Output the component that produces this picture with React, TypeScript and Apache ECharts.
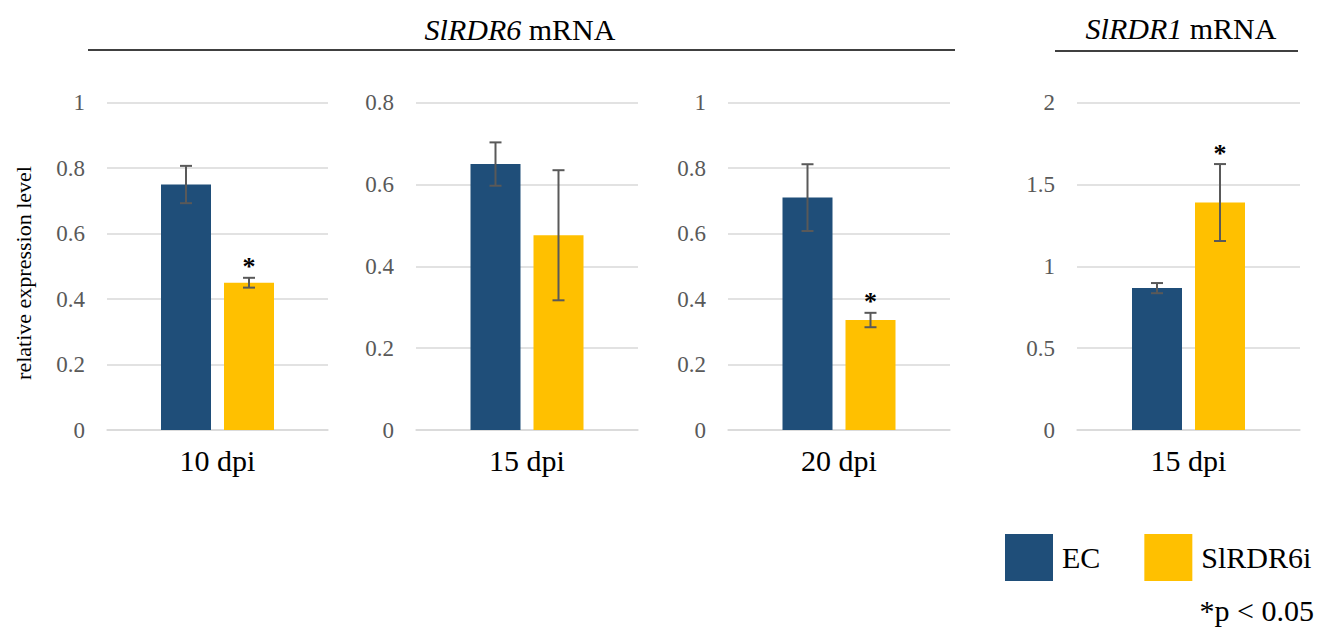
import React, { useEffect, useRef } from "react";
import * as echarts from "echarts";

const categories = ["10 dpi", "15 dpi", "20 dpi", "15 dpi"];
const ecValues = [0.75, 0.65, 0.71, 0.867];
const ecErrors = [0.057, 0.053, 0.102, 0.031];
const rdr6iValues = [0.45, 0.476, 0.336, 1.39];
const rdr6iErrors = [0.015, 0.159, 0.022, 0.235];
const ecSignificant = [false, false, false, false];
const rdr6iSignificant = [true, false, true, true];
const yMaxes = [1, 0.8, 1, 2];
const yIntervals = [0.2, 0.2, 0.2, 0.5];
const seriesNames = ["EC", "SlRDR6i"];

const FONT = "Liberation Serif";
const BLUE = "#1F4E79";
const YELLOW = "#FFC000";
const GRID_COLOR = "#d9d9d9";

const gridBoxes = [
  { left: 107, width: 221 },
  { left: 416, width: 222 },
  { left: 728, width: 222 },
  { left: 1077, width: 223 },
];

export default function App() {
  const ref = useRef<HTMLDivElement>(null);

  useEffect(() => {
    if (!ref.current) return;
    const chart = echarts.init(ref.current, null, { renderer: "svg" });

    const grid = gridBoxes.map((g) => ({
      left: g.left,
      width: g.width,
      top: 102.7,
      height: 327.3,
      containLabel: false,
    }));

    const xAxis = categories.map((c, i) => ({
      type: "category",
      gridIndex: i,
      data: [c],
      axisTick: { show: false },
      axisLine: { show: true, lineStyle: { color: GRID_COLOR, width: 1.5 } },
      axisLabel: { margin: 15, fontFamily: FONT, fontSize: 30, color: "#000" },
    }));

    const yAxis = yMaxes.map((m, i) => ({
      type: "value",
      gridIndex: i,
      min: 0,
      max: m,
      interval: yIntervals[i],
      axisLine: { show: false },
      axisTick: { show: false },
      splitLine: { lineStyle: { color: GRID_COLOR, width: 1.5 } },
      axisLabel: {
        margin: 22,
        fontFamily: FONT,
        fontSize: 23,
        color: "#595959",
      },
    }));

    const errRender = (params: any, api: any) => {
      const v = api.value(1);
      const e = api.value(2);
      const sig = api.value(3);
      const off = api.value(4);
      const c = api.coord([0, v]);
      const x = c[0] + off;
      const top = api.coord([0, v + e])[1];
      const bot = api.coord([0, v - e])[1];
      const style = { stroke: "#595959", lineWidth: 2 };
      const children: any[] = [
        { type: "line", shape: { x1: x, y1: top, x2: x, y2: bot }, style },
        { type: "line", shape: { x1: x - 6, y1: top, x2: x + 6, y2: top }, style },
        { type: "line", shape: { x1: x - 6, y1: bot, x2: x + 6, y2: bot }, style },
      ];
      if (sig) {
        children.push({
          type: "text",
          x: x,
          y: top + 2,
          style: {
            text: "*",
            fontFamily: FONT,
            fontSize: 26,
            fontWeight: "bold",
            fill: "#000",
            align: "center",
            verticalAlign: "bottom",
          },
        });
      }
      return { type: "group", children };
    };

    const series: any[] = [];
    categories.forEach((c, i) => {
      series.push({
        type: "bar",
        name: seriesNames[0],
        xAxisIndex: i,
        yAxisIndex: i,
        data: [ecValues[i]],
        barWidth: 50,
        barGap: "26%",
        itemStyle: { color: BLUE },
      });
      series.push({
        type: "bar",
        name: seriesNames[1],
        xAxisIndex: i,
        yAxisIndex: i,
        data: [rdr6iValues[i]],
        barWidth: 50,
        barGap: "26%",
        itemStyle: { color: YELLOW },
      });
      series.push({
        type: "custom",
        xAxisIndex: i,
        yAxisIndex: i,
        z: 5,
        renderItem: errRender,
        data: [
          [0, ecValues[i], ecErrors[i], ecSignificant[i] ? 1 : 0, -31.5],
          [0, rdr6iValues[i], rdr6iErrors[i], rdr6iSignificant[i] ? 1 : 0, 31.5],
        ],
      });
    });

    const option = {
      animation: false,
      backgroundColor: "#fff",
      textStyle: { fontFamily: FONT },
      grid,
      xAxis,
      yAxis,
      series,
      legend: {
        data: seriesNames,
        left: 1005,
        top: 534,
        padding: 0,
        itemWidth: 48,
        itemHeight: 47,
        itemGap: 44,
        icon: "rect",
        selectedMode: false,
        textStyle: { fontFamily: FONT, fontSize: 30, color: "#000", padding: [0, 0, 0, 4] },
      },
      graphic: [
        {
          type: "text",
          x: 23,
          y: 273,
          rotation: Math.PI / 2,
          style: {
            text: "relative expression level",
            fontFamily: FONT,
            fontSize: 22,
            fill: "#000",
            align: "center",
            verticalAlign: "middle",
          },
        },
        {
          type: "text",
          x: 520,
          y: 29,
          style: {
            text: "{i|SlRDR6} mRNA",
            fontFamily: FONT,
            fontSize: 30,
            fill: "#000",
            align: "center",
            verticalAlign: "middle",
            rich: { i: { fontFamily: FONT, fontSize: 30, fontStyle: "italic", fill: "#000" } },
          },
        },
        {
          type: "line",
          shape: { x1: 88, y1: 50, x2: 955, y2: 50 },
          style: { stroke: "#000", lineWidth: 1.5 },
        },
        {
          type: "text",
          x: 1181,
          y: 28,
          style: {
            text: "{i|SlRDR1} mRNA",
            fontFamily: FONT,
            fontSize: 30,
            fill: "#000",
            align: "center",
            verticalAlign: "middle",
            rich: { i: { fontFamily: FONT, fontSize: 30, fontStyle: "italic", fill: "#000" } },
          },
        },
        {
          type: "line",
          shape: { x1: 1055, y1: 51, x2: 1298, y2: 51 },
          style: { stroke: "#000", lineWidth: 1.5 },
        },
        {
          type: "text",
          x: 1314,
          y: 610,
          style: {
            text: "*p < 0.05",
            fontFamily: FONT,
            fontSize: 30,
            fill: "#000",
            align: "right",
            verticalAlign: "middle",
          },
        },
      ],
    };

    chart.setOption(option as any);
    return () => chart.dispose();
  }, []);

  return (
    <div
      ref={ref}
      style={{ position: "fixed", left: 0, top: 0, width: 1331, height: 633 }}
    />
  );
}
